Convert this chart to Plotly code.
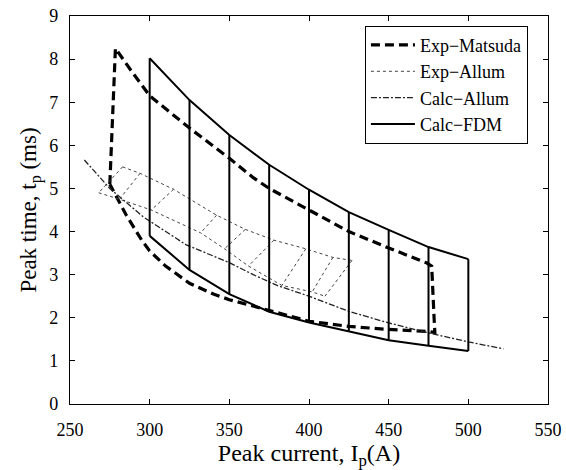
import plotly.graph_objects as go

# ---------------- data ----------------
# Calc-FDM: envelope at each peak current
fdm_current = [300, 325, 350, 375, 400, 425, 450, 475, 500]
fdm_tp_max = [8.02, 7.05, 6.24, 5.55, 4.97, 4.45, 4.04, 3.64, 3.36]
fdm_tp_min = [3.90, 3.11, 2.55, 2.14, 1.89, 1.68, 1.48, 1.35, 1.23]

# Exp-Matsuda: closed outline
matsuda_current = [275, 276, 277, 277.8, 278.5, 289, 300, 325, 350, 365, 375, 400, 425, 450, 474, 477,
                   478, 478.5, 479, 475, 450, 425, 400, 375, 362, 350, 340, 325, 310, 300, 295, 290,
                   285, 280, 275]
matsuda_tp = [5.1, 6.0, 7.0, 7.9, 8.25, 7.7, 7.15, 6.4, 5.7, 5.25, 5.0, 4.5, 4.0, 3.62, 3.27, 3.2,
              2.6, 2.0, 1.66, 1.68, 1.73, 1.8, 1.92, 2.17, 2.3, 2.42, 2.55, 2.8, 3.2, 3.55, 3.8, 4.1,
              4.4, 4.75, 5.1]

# Exp-Allum: mesh of upper / lower points joined pairwise
allum_top_current = [283, 294, 315, 342, 360, 378, 398, 415, 427]
allum_top_tp = [5.5, 5.35, 4.98, 4.38, 4.05, 3.8, 3.6, 3.4, 3.33]
allum_bot_current = [268, 281, 301, 332, 347, 362, 383, 402, 410]
allum_bot_tp = [4.9, 4.75, 4.5, 3.97, 3.6, 3.2, 2.75, 2.6, 2.5]

# Calc-Allum
calc_allum_current = [259, 275, 296, 323, 350, 365, 380, 400, 425, 450, 475, 500, 522]
calc_allum_tp = [5.66, 5.0, 4.34, 3.69, 3.28, 3.0, 2.75, 2.5, 2.15, 1.88, 1.65, 1.44, 1.28]

x_ticks = [250, 300, 350, 400, 450, 500, 550]
y_ticks = [0, 1, 2, 3, 4, 5, 6, 7, 8, 9]

# ---------------- build paths ----------------
fdm_x = list(fdm_current) + [None] + list(fdm_current)
fdm_y = list(fdm_tp_max) + [None] + list(fdm_tp_min)
for c, hi, lo in zip(fdm_current, fdm_tp_max, fdm_tp_min):
    fdm_x += [None, c, c]
    fdm_y += [None, hi, lo]

allum_x = list(allum_top_current) + [None] + list(allum_bot_current)
allum_y = list(allum_top_tp) + [None] + list(allum_bot_tp)
for xt, yt, xb, yb in zip(allum_top_current, allum_top_tp, allum_bot_current, allum_bot_tp):
    allum_x += [None, xt, xb]
    allum_y += [None, yt, yb]

FONT = "Liberation Serif"

fig = go.Figure()
fig.add_trace(go.Scatter(x=matsuda_current, y=matsuda_tp, mode="lines", name="Exp\u2212Matsuda",
                         line=dict(color="black", width=3.2, dash="9px,5px")))
fig.add_trace(go.Scatter(x=allum_x, y=allum_y, mode="lines", name="Exp\u2212Allum",
                         line=dict(color="#444444", width=1, dash="3px,3px"), connectgaps=False))
fig.add_trace(go.Scatter(x=calc_allum_current, y=calc_allum_tp, mode="lines", name="Calc\u2212Allum",
                         line=dict(color="#222222", width=1.3, dash="6px,2px,2px,2px")))
fig.add_trace(go.Scatter(x=fdm_x, y=fdm_y, mode="lines", name="Calc\u2212FDM",
                         line=dict(color="black", width=2), connectgaps=False))

axis_common = dict(showline=True, linecolor="black", linewidth=1.2, mirror="ticks",
                   ticks="inside", ticklen=5, tickcolor="black", tickwidth=1,
                   showgrid=False, zeroline=False, automargin=False,
                   tickfont=dict(family=FONT, size=18, color="black"))

fig.update_layout(
    width=566, height=470,
    margin=dict(l=70, r=18, t=16, b=66),
    paper_bgcolor="white", plot_bgcolor="white",
    font=dict(family=FONT, color="black"),
    xaxis=dict(range=[250, 550], tickvals=x_ticks, ticklabelstandoff=9,
               title=dict(text="Peak current, I<sub>p</sub>(A)", font=dict(family=FONT, size=24),
                          standoff=6),
               **axis_common),
    yaxis=dict(range=[0, 9], tickvals=y_ticks, ticklabelstandoff=7,
               title=dict(text="Peak time, t<sub>p</sub> (ms)", font=dict(family=FONT, size=23),
                          standoff=6),
               **axis_common),
    legend=dict(x=0.617, y=0.975, xanchor="left", yanchor="top",
                bgcolor="white", bordercolor="black", borderwidth=1,
                font=dict(family=FONT, size=18, color="black"),
                itemwidth=44, tracegroupgap=0),
    showlegend=True,
)

fig.write_html("out.html")
